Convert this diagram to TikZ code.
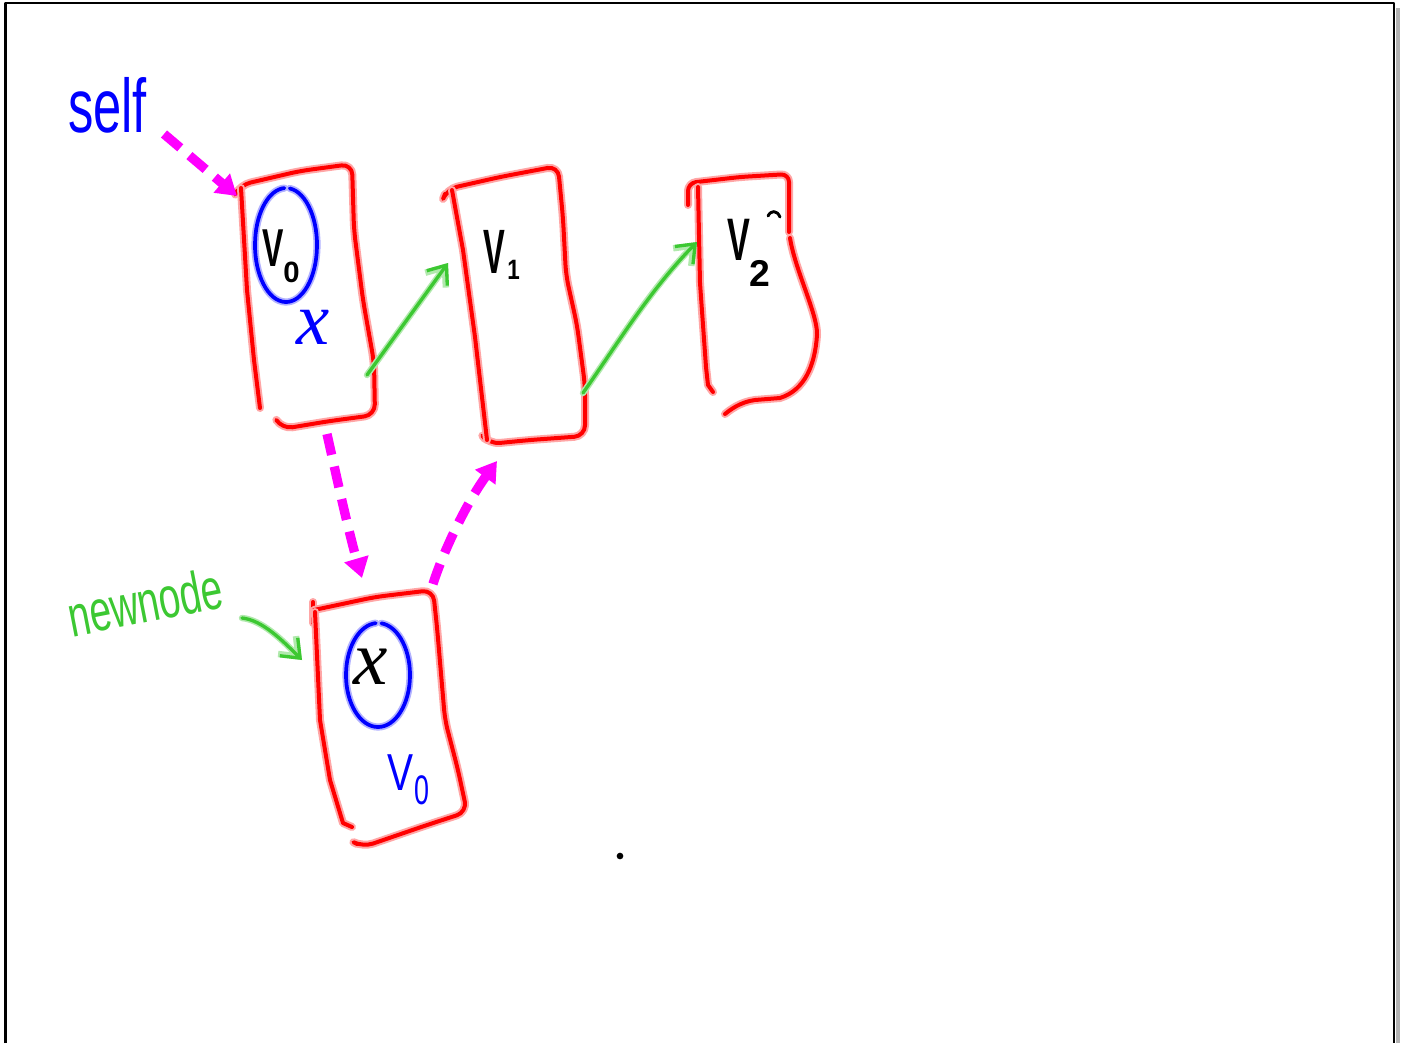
\documentclass[tikz,border=0pt]{standalone}
\usepackage{graphicx}
\usepackage{fontspec}
\setmainfont{Liberation Sans}
\newfontfamily\hwserif{Liberation Serif}
\usetikzlibrary{arrows.meta}
\definecolor{penred}{RGB}{255,0,0}
\definecolor{penblue}{RGB}{0,0,255}
\definecolor{pengreen}{RGB}{60,200,50}
\definecolor{penmag}{RGB}{255,0,255}
\begin{document}
\begin{tikzpicture}[x=0.75pt,y=-0.75pt,line cap=round,line join=round,
  redpen/.style={draw=penred, line width=3pt, preaction={draw=penred!35, line width=6pt}},
  bluepen/.style={draw=penblue, line width=2.8pt, preaction={draw=penblue!30, line width=5.4pt}},
  greenarrow/.style={draw=pengreen, line width=2.5pt, preaction={draw=pengreen!40, line width=4.8pt},
     -{Straight Barb[length=12pt,width=19pt]}},
  magarrow/.style={draw=penmag, line width=7pt, line cap=butt, dash pattern=on 16pt off 9pt,
     -{Triangle[length=15pt,width=18pt]}},
  lbl/.style={inner sep=0pt, outer sep=0pt}]
\useasboundingbox (0,0) rectangle (1407,1043);
\fill[white] (0,0) rectangle (1407,1043);
% frame
\draw[gray!60, line width=3pt, line cap=butt] (1398,8) -- (1398,1043);
\draw[black, line width=2pt, line cap=butt] (5.5,1043) -- (5.5,3) -- (1394,3) -- (1394,1043);

% ---------- box A ----------
\draw[redpen, rounded corners=8] (237,191) -- (240,185) -- (300,171) -- (352,164) -- (354,230)
   -- (363,300) -- (374,362) -- (375,415) -- (330,421) -- (282,429) -- (277,421);
\draw[redpen] (241,188) -- (247,290) -- (254,360) -- (260,408);
\draw[bluepen] (286,245) ++(277:31 and 57) arc[start angle=277, end angle=627, x radius=31, y radius=57];
\node[lbl, anchor=base west] (vA) at (262,266)
  {\bfseries\fontsize{40}{40}\selectfont\scalebox{0.6}[1]{V}\kern0pt\raisebox{-12pt}{\fontsize{22}{22}\selectfont 0}};
\node[lbl, text=penblue] (xA) at (313,327) {\fontsize{56}{56}\selectfont\hwserif\itshape x};

% ---------- box B ----------
\draw[redpen, rounded corners=8] (445,194) -- (447,189) -- (500,177) -- (558,166) -- (563,218)
   -- (566,275) -- (577,325) -- (585,385) -- (585,436) -- (530,440) -- (489,444) -- (485,439);
\draw[redpen] (452,190) -- (463,250) -- (475,337) -- (487,440);
\node[lbl, anchor=base west] (vB) at (483,273)
  {\bfseries\fontsize{47}{47}\selectfont\scalebox{0.52}[1]{V}\kern2pt\raisebox{-5pt}{\fontsize{21}{21}\selectfont\scalebox{0.8}[1]{1}}};

% ---------- box C ----------
\draw[redpen, rounded corners=6] (688,205) -- (688,183) -- (740,177) -- (789,174) -- (789,232);
\draw[redpen] (790,238) .. controls (795,270) and (818,315) .. (817,335)
   .. controls (815,365) and (805,390) .. (780,398) -- (755,400)
   .. controls (740,402) and (730,410) .. (725,414);
\draw[redpen] (698,187) -- (700,283) -- (706,367) -- (708,385) -- (713,392);
\node[lbl, anchor=base west] (vC) at (727,260)
  {\bfseries\fontsize{45}{45}\selectfont\scalebox{0.57}[1]{V}\kern0pt\raisebox{-20pt}{\fontsize{28}{28}\selectfont 2}};
\coordinate (markC) at (768,216);
\draw[black, line width=2.2pt] (markC) .. controls (771,210) and (777,210) .. (780,217);

% ---------- box D ----------
\draw[redpen] (313,602) -- (313,623);
\draw[redpen, rounded corners=8] (314,610) -- (375,597) -- (433,590) -- (437,627) -- (445,720)
   -- (458,770) -- (467,812) -- (427,825) -- (363,847) -- (357,844);
\draw[redpen] (315,612) -- (320,720) -- (330,780) -- (343,823) -- (352,827);
\draw[bluepen] (378,675) ++(276:32 and 52) arc[start angle=276, end angle=626, x radius=32, y radius=52];
\node[lbl] (xD) at (371,667) {\fontsize{58}{58}\selectfont\hwserif\itshape x};
\node[lbl, anchor=base west, text=penblue] (vD) at (387,790)
  {\fontsize{39}{39}\selectfont\scalebox{0.75}[1]{V}\kern1pt\raisebox{-11pt}{\fontsize{31}{31}\selectfont\scalebox{0.65}[1]{0}}};

% ---------- labels ----------
\node[lbl, anchor=base west, text=penblue] (self) at (68,132)
  {\fontsize{38}{38}\selectfont\scalebox{1}[1.5]{self}};
\node[lbl, anchor=base west, rotate=11, text=pengreen] (newnode) at (72,637)
  {\fontsize{29}{29}\selectfont\scalebox{1}[1.5]{newnode}};

% ---------- connectors ----------
\coordinate (selfS) at (164,134);
\coordinate (Ain) at (237,196);
\draw[magarrow] (selfS) -- (Ain);
\coordinate (Abot) at (327,434);
\coordinate (Dtop) at (362,578);
\draw[magarrow] (Abot) .. controls (334,465) and (348,530) .. (Dtop);
\coordinate (Dtr) at (433,584);
\coordinate (Bbot) at (497,461);
\draw[magarrow] (Dtr) .. controls (442,555) and (465,505) .. (Bbot);

\coordinate (Aout) at (367,375);
\coordinate (Bin) at (448,263);
\draw[greenarrow] (Aout) -- (Bin);
\coordinate (Bout) at (583,393);
\coordinate (Cin) at (697,242);
\draw[greenarrow] (Bout) .. controls (620,340) and (650,290) .. (Cin);
\coordinate (nnS) at (242,618);
\coordinate (Dleft) at (302,660);
\draw[greenarrow] (nnS) .. controls (262,620) and (282,640) .. (Dleft);

\node[circle, fill=black, inner sep=0pt, minimum size=5pt] (dot) at (620,856) {};
\end{tikzpicture}
\end{document}
